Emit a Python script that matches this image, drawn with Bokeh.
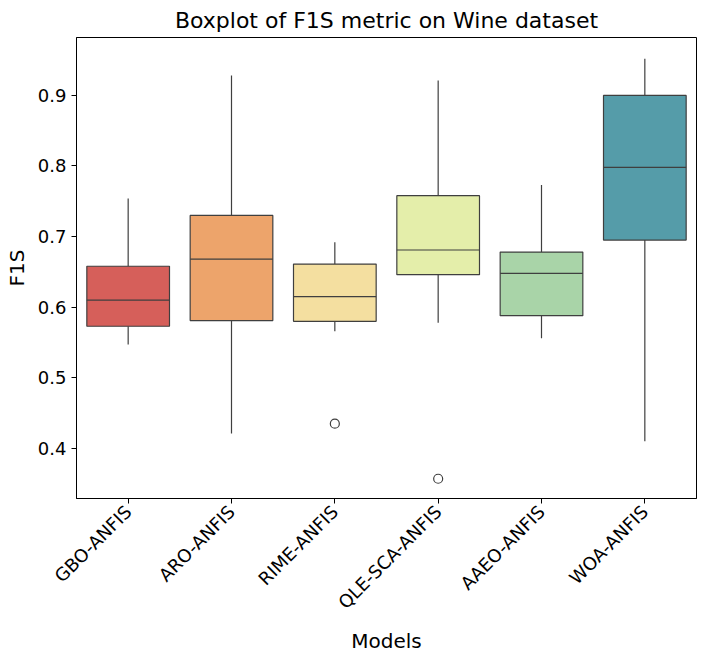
import math
from bokeh.plotting import figure
from bokeh.models import ColumnDataSource, FactorRange, Range1d, FixedTicker
from bokeh.embed import file_html
from bokeh.resources import INLINE

models = ["GBO-ANFIS", "ARO-ANFIS", "RIME-ANFIS", "QLE-SCA-ANFIS", "AAEO-ANFIS", "WOA-ANFIS"]
lower = [0.547, 0.421, 0.566, 0.578, 0.556, 0.410]
q1 = [0.573, 0.581, 0.580, 0.646, 0.588, 0.695]
median = [0.610, 0.668, 0.615, 0.681, 0.648, 0.798]
q3 = [0.658, 0.730, 0.661, 0.758, 0.678, 0.900]
upper = [0.754, 0.928, 0.692, 0.921, 0.773, 0.952]
outlier_model = ["RIME-ANFIS", "QLE-SCA-ANFIS"]
outlier_value = [0.435, 0.357]
colors = ["#d65f5a", "#eda46b", "#f4dfa0", "#e4eeaa", "#a9d4a8", "#559ca9"]

font = "DejaVu Sans"
edge = "#3f3f3f"

p = figure(x_range=FactorRange(*models), y_range=Range1d(0.329, 0.982),
           frame_width=620, frame_height=461, min_border_left=76, min_border_right=8,
           min_border_top=37, min_border_bottom=160,
           output_backend="svg", toolbar_location=None, tools="",
           title="Boxplot of F1S metric on Wine dataset")
p.title.text_font = font
p.title.text_font_size = "22px"
p.title.text_font_style = "normal"
p.title.text_color = "black"
p.title.align = "center"

src = ColumnDataSource(data=dict(x=models, lower=lower, q1=q1, median=median,
                                 q3=q3, upper=upper, color=colors))
p.segment(x0="x", y0="lower", x1="x", y1="q1", source=src, line_color=edge, line_width=1.2)
p.segment(x0="x", y0="q3", x1="x", y1="upper", source=src, line_color=edge, line_width=1.2)
p.vbar(x="x", bottom="q1", top="q3", width=0.8, source=src, fill_color="color",
       line_color=edge, line_width=1.2)
p.vbar(x="x", bottom="median", top="median", width=0.8, source=src,
       line_color=edge, line_width=1.2)
p.scatter(x=outlier_model, y=outlier_value, size=9, fill_color=None,
          line_color=edge, line_width=1.2)

p.xgrid.grid_line_color = None
p.ygrid.grid_line_color = None
p.yaxis.ticker = FixedTicker(ticks=[0.4, 0.5, 0.6, 0.7, 0.8, 0.9])
p.xaxis.major_label_orientation = math.pi / 4
p.xaxis.axis_label = "Models"
p.yaxis.axis_label = "F1S"
for ax in (p.xaxis, p.yaxis):
    ax.axis_label_text_font = font
    ax.axis_label_text_font_size = "20px"
    ax.axis_label_text_font_style = "normal"
    ax.axis_label_text_color = "black"
    ax.axis_label_standoff = 6
    ax.major_label_text_font = font
    ax.major_label_text_font_size = "18px"
    ax.major_label_text_color = "black"
    ax.minor_tick_line_color = None
    ax.axis_line_color = "black"
    ax.major_tick_line_color = "black"
    ax.major_tick_in = 0
    ax.major_tick_out = 5
p.outline_line_color = "black"
p.outline_line_alpha = 1

open("out.html", "w").write(file_html(p, INLINE))
